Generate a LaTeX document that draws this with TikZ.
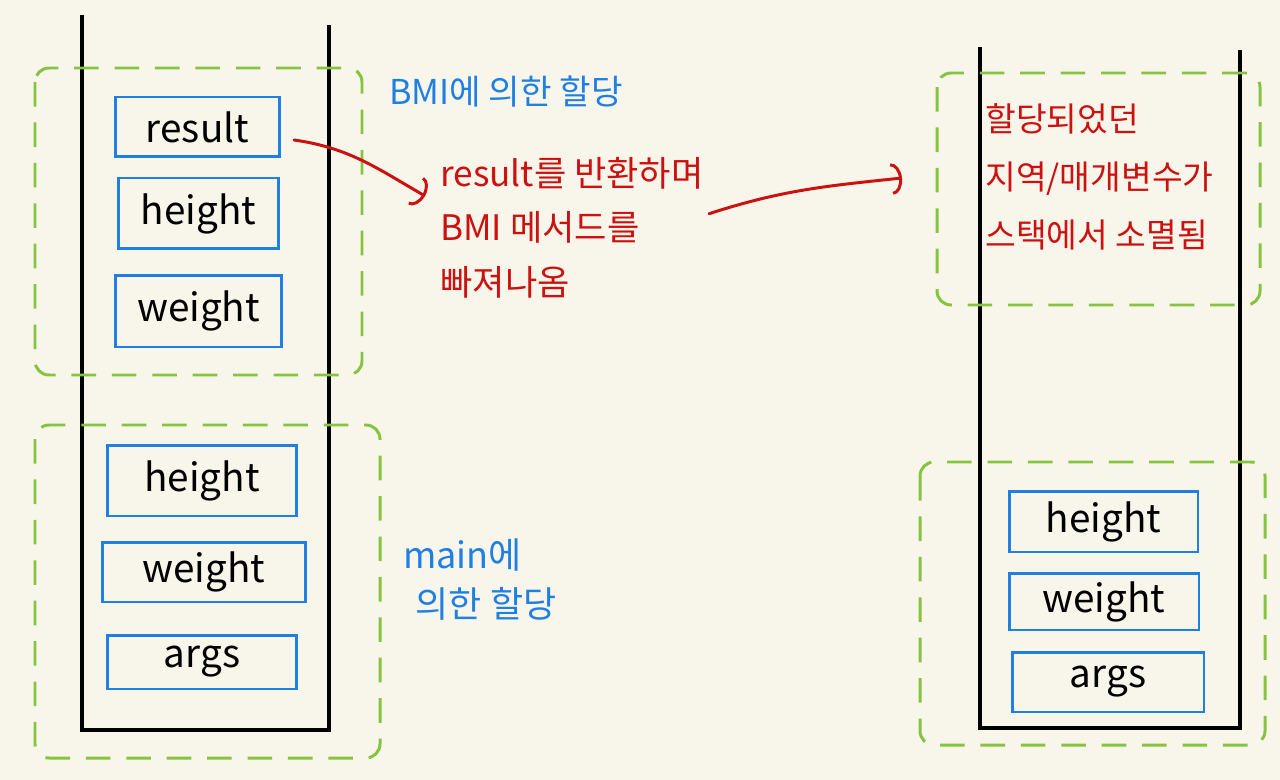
\documentclass[tikz,border=0pt]{standalone}
\usepackage{fontspec}
\setmainfont{Noto Sans CJK KR}
\usetikzlibrary{arrows.meta}

\definecolor{paper}{HTML}{F8F6EB}
\definecolor{cellblue}{HTML}{1F7FE3}
\definecolor{framegreen}{HTML}{86C440}
\definecolor{notered}{HTML}{CC1111}

\begin{document}
\begin{tikzpicture}[
  x=0.02cm, y=-0.02cm,
  stackline/.style={line width=1.8pt, black, line join=miter},
  cell/.style={draw=cellblue, line width=1.7pt, inner sep=0pt,
    font=\fontsize{22}{26}\selectfont},
  frame/.style={draw=framegreen, line width=1.7pt, dash pattern=on 14pt off 9pt,
    rounded corners=8pt},
  bluenote/.style={text=cellblue, font=\fontsize{19.5}{28}\selectfont, inner sep=0pt},
  rednote/.style={text=notered, font=\fontsize{20}{31}\selectfont, inner sep=0pt, align=left},
  redarrow/.style={draw=notered, line width=1.7pt, line cap=round,
    -{Arc Barb[length=6pt, width=18pt]}},
]
\useasboundingbox[fill=paper] (0,0) rectangle (1280,780);

% stacks
\draw[stackline] (82,15) -- (82,730) -- (329,730) -- (329,25);
\draw[stackline] (980,47) -- (980,728) -- (1240,728) -- (1240,50);

% frames
\draw[frame] (35,68) rectangle (362,375);
\draw[frame] (35,425) rectangle (380,758);
\draw[frame] (937,73) rectangle (1260,305);
\draw[frame] (920,462) rectangle (1265,745);

% cells of the left stack
\node (result)  [cell, minimum width=3.3cm,  minimum height=1.2cm]  at (197.5,127) {result};
\node (heightA) [cell, minimum width=3.22cm, minimum height=1.42cm] at (198.5,213.5) {height};
\node (weightA) [cell, minimum width=3.34cm, minimum height=1.44cm] at (198.5,311) {weight};
\node (heightB) [cell, minimum width=3.8cm,  minimum height=1.42cm] at (202,480.5) {height};
\node (weightB) [cell, minimum width=4.08cm, minimum height=1.2cm]  at (204,572) {weight};
\node (argsB)   [cell, minimum width=3.8cm,  minimum height=1.08cm] at (202,662) {args};

% cells of the right stack
\node (heightC) [cell, minimum width=3.78cm, minimum height=1.22cm] at (1103.5,521.5) {height};
\node (weightC) [cell, minimum width=3.8cm,  minimum height=1.14cm] at (1104,601.5) {weight};
\node (argsC)   [cell, minimum width=3.84cm, minimum height=1.2cm]  at (1108,682) {args};

% notes
\node (bmilabel) [bluenote, anchor=west] at (389,92) {BMI에 의한 할당};
\node (mainlabel) [bluenote, anchor=north west, align=left,
  font=\fontsize{20.5}{28}\selectfont] at (403,538)
  {main에\\\hspace*{0.25cm}의한 할당};
\node (ret) [rednote, anchor=north west] at (440,157)
  {result를 반환하며\\BMI 메서드를\\빠져나옴};
\node (gone) [rednote, anchor=north west, font=\fontsize{19}{33}\selectfont] at (985,103)
  {할당되었던\\지역/매개변수가\\스택에서 소멸됨};

% arrows
\coordinate (retin) at (425,196);
\coordinate (gonein) at (902,178);
\draw[redarrow] ([xshift=0.25cm, yshift=-0.26cm]result.east) to[out=-8, in=150] (retin);
\draw[redarrow] ([xshift=0.1cm, yshift=0.28cm]ret.east) to[out=18, in=186] (gonein);
\end{tikzpicture}
\end{document}
